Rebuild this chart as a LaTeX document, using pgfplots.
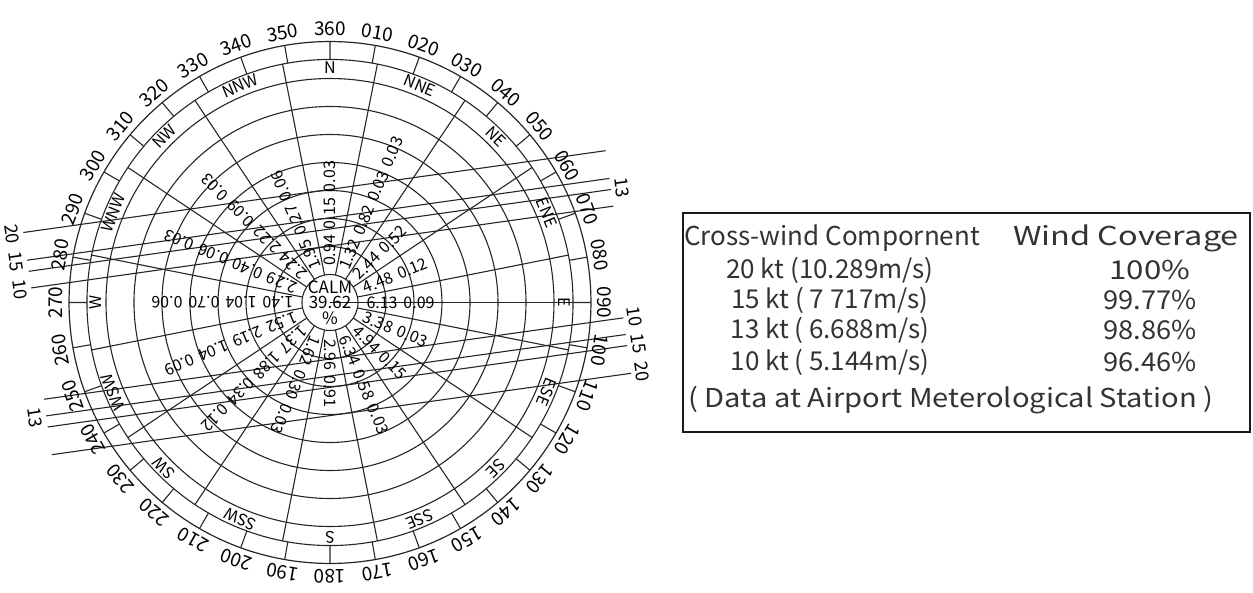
\documentclass[border=0pt]{standalone}
\usepackage{pgfplots}
\pgfplotsset{compat=1.18}
\usepgfplotslibrary{polar}
\usepackage{fontspec}
\setmainfont{Noto Sans CJK JP}
\begin{document}
\begin{tikzpicture}
\useasboundingbox (-165pt,-145.25pt) rectangle (461.5pt,151.25pt);
\begin{polaraxis}[
  at={(0,0)}, anchor=center,
  scale only axis, width=260.96pt, height=260.96pt,
  ymin=0, ymax=46.6,
  xtick=\empty,
  ytick={5,10,15,20,25,30,35,40,43.4},
  yticklabels={},
  ymajorgrids, xmajorgrids=false,
  major grid style={black!85, line width=0.55pt},
  axis line style={black!85, line width=0.6pt},
  ytick style={draw=none},
  clip=false,
]
% spokes (sector boundaries)
\addplot [black!85, line width=0.55pt, mark=none, unbounded coords=jump] table {
th r
11.25 5
11.25 43.4
nan nan
33.75 5
33.75 43.4
nan nan
56.25 5
56.25 43.4
nan nan
78.75 5
78.75 43.4
nan nan
101.25 5
101.25 43.4
nan nan
123.75 5
123.75 43.4
nan nan
146.25 5
146.25 43.4
nan nan
168.75 5
168.75 43.4
nan nan
191.25 5
191.25 43.4
nan nan
213.75 5
213.75 43.4
nan nan
236.25 5
236.25 43.4
nan nan
258.75 5
258.75 43.4
nan nan
281.25 5
281.25 43.4
nan nan
303.75 5
303.75 43.4
nan nan
326.25 5
326.25 43.4
nan nan
348.75 5
348.75 43.4
};
% 10-degree ticks in the outer band
\addplot [black!85, line width=0.55pt, mark=none, unbounded coords=jump] table {
th r
0 43.4
0 46.6
nan nan
10 43.4
10 46.6
nan nan
20 43.4
20 46.6
nan nan
30 43.4
30 46.6
nan nan
40 43.4
40 46.6
nan nan
50 43.4
50 46.6
nan nan
60 43.4
60 46.6
nan nan
70 43.4
70 46.6
nan nan
80 43.4
80 46.6
nan nan
90 43.4
90 46.6
nan nan
100 43.4
100 46.6
nan nan
110 43.4
110 46.6
nan nan
120 43.4
120 46.6
nan nan
130 43.4
130 46.6
nan nan
140 43.4
140 46.6
nan nan
150 43.4
150 46.6
nan nan
160 43.4
160 46.6
nan nan
170 43.4
170 46.6
nan nan
180 43.4
180 46.6
nan nan
190 43.4
190 46.6
nan nan
200 43.4
200 46.6
nan nan
210 43.4
210 46.6
nan nan
220 43.4
220 46.6
nan nan
230 43.4
230 46.6
nan nan
240 43.4
240 46.6
nan nan
250 43.4
250 46.6
nan nan
260 43.4
260 46.6
nan nan
270 43.4
270 46.6
nan nan
280 43.4
280 46.6
nan nan
290 43.4
290 46.6
nan nan
300 43.4
300 46.6
nan nan
310 43.4
310 46.6
nan nan
320 43.4
320 46.6
nan nan
330 43.4
330 46.6
nan nan
340 43.4
340 46.6
nan nan
350 43.4
350 46.6
};
% cross-wind limit lines (kt, runway 082)
\addplot [black!85, line width=0.55pt, mark=none, data cs=cart, unbounded coords=jump] table {
x y
-54.77 12.50
49.21 27.11
nan nan
-54.08 7.55
49.90 22.16
nan nan
-53.80 5.57
50.18 20.18
nan nan
-53.38 2.60
50.60 17.21
nan nan
-51.09 -17.28
52.39 -2.74
nan nan
-50.68 -20.25
52.81 -5.71
nan nan
-50.40 -22.23
53.09 -7.69
nan nan
-49.70 -27.18
53.78 -12.64
};
% cross-wind labels
\addplot [only marks, mark=none, data cs=cart, point meta=explicit symbolic,
  nodes near coords, visualization depends on={value \thisrow{rot} \as \rot},
  nodes near coords style={rotate=\rot, anchor=center, inner sep=0pt, font=\fontsize{9}{9}\selectfont}]
  table [x=x, y=y, meta=lab] {
x y rot lab
-56.75 12.22 -82 20
-56.06 7.27 -82 15
-55.36 2.32 -82 10
52.16 20.46 -82 13
54.37 -2.46 -82 10
55.07 -7.41 -82 15
55.76 -12.36 -82 20
-52.65 -20.52 -82 13
};
% degree labels
\addplot [only marks, mark=none, point meta=explicit symbolic,
  nodes near coords, visualization depends on={value \thisrow{rot} \as \rot},
  nodes near coords style={rotate=\rot, anchor=center, inner sep=0pt, font=\fontsize{9.5}{9.5}\selectfont}]
  table [x=th, y=r, meta=lab] {
th r rot lab
0 48.9 -90 090
10 48.9 -80 080
20 48.9 -70 070
30 48.9 -60 060
40 48.9 -50 050
50 48.9 -40 040
60 48.9 -30 030
70 48.9 -20 020
80 48.9 -10 010
90 48.9 0 360
100 48.9 10 350
110 48.9 20 340
120 48.9 30 330
130 48.9 40 320
140 48.9 50 310
150 48.9 60 300
160 48.9 70 290
170 48.9 80 280
180 48.9 90 270
190 48.9 100 260
200 48.9 110 250
210 48.9 120 240
220 48.9 130 230
230 48.9 140 220
240 48.9 150 210
250 48.9 160 200
260 48.9 170 190
270 48.9 180 180
280 48.9 190 170
290 48.9 200 160
300 48.9 210 150
310 48.9 220 140
320 48.9 230 130
330 48.9 240 120
340 48.9 250 110
350 48.9 260 100
};
% compass point labels
\addplot [only marks, mark=none, point meta=explicit symbolic,
  nodes near coords, visualization depends on={value \thisrow{rot} \as \rot},
  nodes near coords style={rotate=\rot, anchor=center, inner sep=0pt, font=\fontsize{8}{8}\selectfont}]
  table [x=th, y=r, meta=lab] {
th r rot lab
90 41.9 0 N
67.5 41.9 -22.5 NNE
45 41.9 -45 NE
22.5 41.9 -67.5 ENE
0 41.9 -90 E
-22.5 41.9 -112.5 ESE
-45 41.9 -135 SE
-67.5 41.9 -157.5 SSE
-90 41.9 -180 S
247.5 41.9 157.5 SSW
225 41.9 135 SW
202.5 41.9 112.5 WSW
180 41.9 90 W
157.5 41.9 67.5 WNW
135 41.9 45 NW
112.5 41.9 22.5 NNW
};
% frequency values (%) per direction and speed band
\addplot [only marks, mark=none, point meta=explicit symbolic,
  nodes near coords, visualization depends on={value \thisrow{th} \as \rot},
  nodes near coords style={rotate=\rot, anchor=center, inner sep=0pt, font=\fontsize{8}{8}\selectfont}]
  table [x=th, y=r, meta=lab] {
th r lab
90 9.3 0.94
90 15.9 0.15
90 22.5 0.03
67.5 9.3 1.32
67.5 15.9 0.82
67.5 22.5 0.03
67.5 29.1 0.03
45 9.3 2.44
45 15.9 0.52
22.5 9.3 4.48
22.5 15.9 0.12
0 9.3 6.13
0 15.9 0.09
-22.5 9.3 3.38
-22.5 15.9 0.03
-45 9.3 4.94
-45 15.9 0.15
-67.5 9.3 6.34
-67.5 15.9 0.58
-67.5 22.5 0.03
-90 9.3 2.96
-90 15.9 0.91
247.5 9.3 1.62
247.5 15.9 0.30
247.5 22.5 0.03
225 9.3 1.37
225 15.9 1.88
225 22.5 0.34
225 29.1 0.12
202.5 9.3 1.52
202.5 15.9 2.19
202.5 22.5 1.04
202.5 29.1 0.09
180 9.3 1.40
180 15.9 1.04
180 22.5 0.70
180 29.1 0.06
157.5 9.3 2.29
157.5 15.9 0.40
157.5 22.5 0.06
157.5 29.1 0.03
135 9.3 2.24
135 15.9 2.22
135 22.5 0.09
135 29.1 0.03
112.5 9.3 1.95
112.5 15.9 0.27
112.5 22.5 0.06
};
\node [align=center, inner sep=0pt, font=\fontsize{8.5}{7.8}\selectfont] at (axis cs:0,0) {CALM\\39.62\\\%};
\end{polaraxis}
% coverage table
\draw [black!90, line width=1.2pt] (176.5pt,-64.75pt) rectangle (460pt,44.75pt);
\begin{scope}[every node/.style={inner sep=0pt, anchor=center, text=black!80, font=\fontsize{13}{13}\selectfont}]
\node at (251pt,32.25pt) {Cross-wind Compornent};
\node [xscale=1.25] at (398pt,32.25pt) {Wind Coverage};
\node at (250pt,16.25pt) {20 kt (10.289m/s)};
\node [xscale=1.2] at (410pt,16.25pt) {100\%};
\node at (250pt,1.25pt) {15 kt ( 7 717m/s)};
\node [xscale=1.05] at (410pt,1.25pt) {99.77\%};
\node at (250pt,-13.75pt) {13 kt ( 6.688m/s)};
\node [xscale=1.05] at (410pt,-13.75pt) {98.86\%};
\node at (250pt,-29.75pt) {10 kt ( 5.144m/s)};
\node [xscale=1.05] at (410pt,-29.75pt) {96.46\%};
\node [xscale=1.12] at (310.5pt,-48.75pt) {( Data at Airport Meterological Station )};
\end{scope}
\end{tikzpicture}
\end{document}
